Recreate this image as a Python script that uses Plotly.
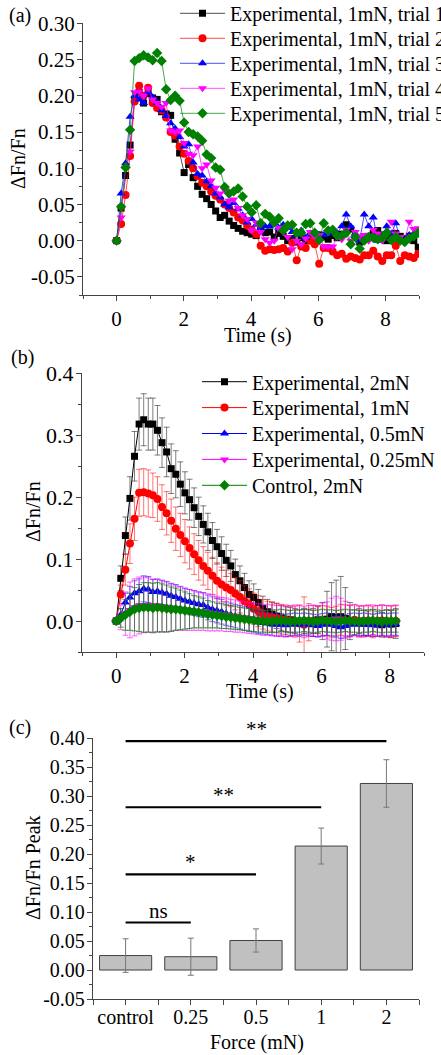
import plotly.graph_objects as go

FONT = "Liberation Serif, Times New Roman, serif"
AX = "#444444"

# sampling instants (s)
time_s = [0, 0.134, 0.268, 0.402, 0.536, 0.67, 0.804, 0.938, 1.072, 1.206,
          1.34, 1.474, 1.608, 1.742, 1.876, 2.01, 2.144, 2.278, 2.412, 2.546,
          2.68, 2.814, 2.948, 3.082, 3.216, 3.35, 3.484, 3.618, 3.752, 3.886,
          4.02, 4.154, 4.288, 4.422, 4.556, 4.69, 4.824, 4.958, 5.092, 5.226,
          5.36, 5.494, 5.628, 5.762, 5.896, 6.03, 6.164, 6.298, 6.432, 6.566,
          6.7, 6.834, 6.968, 7.102, 7.236, 7.37, 7.504, 7.638, 7.772, 7.906,
          8.04, 8.174, 8.308, 8.442, 8.576, 8.71, 8.844, 8.978]

# ---- panel (a): five trials at 1 mN ----
trial1 = [0, 0.045, 0.09, 0.132, 0.195, 0.205, 0.19, 0.203, 0.197, 0.195,
          0.178, 0.175, 0.173, 0.14, 0.121, 0.094, 0.105, 0.087, 0.075, 0.064,
          0.058, 0.05, 0.041, 0.032, 0.035, 0.027, 0.021, 0.017, 0.013, 0.011,
          0.009, 0.007, 0.014, 0.011, 0.012, 0.005, 0.01, 0.006, 0.0, 0.003,
          -0.002, 0.004, 0.0, 0.006, 0.003, 0.008, 0.005, 0.002, 0.007, 0.004,
          0.009, 0.022, 0.016, 0.004, -0.002, 0.003, 0.006, 0.01, 0.014, 0.008,
          0.0, 0.004, 0.01, 0.006, 0.003, 0.006, 0.0, -0.009]
trial2 = [0, 0.023, 0.063, 0.117, 0.192, 0.214, 0.2, 0.211, 0.19, 0.183,
          0.18, 0.17, 0.15, 0.145, 0.13, 0.12, 0.11, 0.1, 0.089, 0.08,
          0.075, 0.068, 0.062, 0.057, 0.05, 0.045, 0.039, 0.032, 0.028, 0.021,
          0.015, 0.009, -0.007, -0.014, -0.012, -0.013, -0.012, -0.01, -0.015, -0.003,
          -0.027, -0.008, -0.01, 0.0, -0.005, -0.032, -0.01, -0.01, -0.015, -0.02,
          -0.018, -0.025, -0.022, -0.024, -0.026, -0.02, -0.02, -0.014, -0.022, -0.028,
          -0.02, -0.02, -0.007, -0.028, -0.02, -0.022, -0.024, -0.018]
trial3 = [0, 0.065, 0.107, 0.171, 0.2, 0.195, 0.19, 0.205, 0.198, 0.19,
          0.18, 0.172, 0.162, 0.155, 0.143, 0.13, 0.133, 0.108, 0.092, 0.09,
          0.082, 0.075, 0.065, 0.06, 0.05, 0.046, 0.052, 0.044, 0.035, 0.025,
          0.03, 0.022, 0.018, 0.02, 0.02, 0.024, 0.018, 0.022, 0.018, 0.012,
          0.008, 0.014, 0.004, 0.01, 0.012, 0.008, 0.008, 0.01, 0.01, 0.01,
          0.02, 0.036, 0.02, 0.01, 0.0, 0.036, 0.02, 0.032, 0.0, 0.004,
          0.02, 0.01, 0.024, 0.002, 0.0, 0.008, 0.01, 0.01]
trial4 = [0, 0.032, 0.1, 0.123, 0.205, 0.206, 0.2, 0.21, 0.195, 0.19,
          0.185, 0.19, 0.152, 0.15, 0.152, 0.135, 0.12, 0.118, 0.13, 0.1,
          0.105, 0.083, 0.073, 0.065, 0.07, 0.055, 0.057, 0.045, 0.035, 0.03,
          0.014, 0.025, 0.012, 0.002, -0.003, 0.0, 0.018, 0.012, 0.005, -0.012,
          0.0, -0.005, 0.003, 0.012, 0.005, 0.008, -0.008, -0.008, -0.008, 0.005,
          0.002, 0.015, 0.0, 0.012, 0.006, 0.008, 0.0, 0.015, 0.01, 0.0,
          0.01, 0.026, 0.01, 0.005, 0.0, 0.026, 0.016, 0.017]
trial5 = [0, 0.047, 0.101, 0.153, 0.248, 0.252, 0.256, 0.253, 0.249, 0.259,
          0.248, 0.209, 0.194, 0.2, 0.193, 0.163, 0.15, 0.147, 0.144, 0.138,
          0.119, 0.114, 0.101, 0.098, 0.074, 0.065, 0.068, 0.072, 0.061, 0.047,
          0.039, 0.049, 0.024, 0.037, 0.033, 0.025, 0.031, 0.014, 0.021, 0.022,
          0.011, 0.011, 0.023, 0.024, 0.011, 0.001, 0.024, 0.014, 0.015, 0.007,
          0.007, 0.011, -0.005, 0.005, -0.011, 0.0, 0.005, 0.004, 0.002, 0.004,
          0.011, 0.001, 0.005, 0.0, -0.002, 0.003, 0.006, 0.011]

# ---- panel (b): mean responses with error bars ----
n_b = 62
mean_2mN = [0, 0.069, 0.138, 0.198, 0.266, 0.318, 0.325, 0.318, 0.318, 0.308,
            0.288, 0.273, 0.246, 0.237, 0.221, 0.207, 0.196, 0.183, 0.169, 0.156,
            0.144, 0.13, 0.12, 0.109, 0.098, 0.089, 0.075, 0.065, 0.054, 0.043,
            0.038, 0.03, 0.02, 0.015, 0.011, 0.008, 0.005, 0.003, 0.002, 0.0,
            -0.002, 0.0, -0.001, 0.0, 0.002, 0.0, 0.003, 0.007, 0.006, 0.007,
            0.004, 0.0, -0.002, 0.0, -0.003, -0.004, -0.002, -0.005, -0.006, -0.004,
            -0.005, -0.004]
err_2mN = [0.005, 0.02, 0.03, 0.035, 0.04, 0.042, 0.042, 0.042, 0.042, 0.04,
           0.04, 0.04, 0.04, 0.038, 0.036, 0.034, 0.033, 0.032, 0.031, 0.03,
           0.03, 0.029, 0.028, 0.027, 0.026, 0.025, 0.025, 0.024, 0.023, 0.022,
           0.022, 0.021, 0.02, 0.02, 0.02, 0.02, 0.02, 0.02, 0.02, 0.02,
           0.02, 0.02, 0.02, 0.02, 0.022, 0.03, 0.045, 0.055, 0.06, 0.065,
           0.05, 0.03, 0.02, 0.02, 0.02, 0.02, 0.02, 0.02, 0.02, 0.022,
           0.022, 0.024]
mean_1mN = [0, 0.043, 0.083, 0.125, 0.165, 0.207, 0.208, 0.206, 0.203, 0.197,
            0.184, 0.174, 0.162, 0.149, 0.139, 0.129, 0.118, 0.108, 0.098, 0.089,
            0.081, 0.073, 0.065, 0.059, 0.054, 0.05, 0.044, 0.039, 0.032, 0.027,
            0.02, 0.016, 0.011, 0.008, 0.006, 0.005, 0.003, 0.002, 0.0, -0.001,
            -0.004, -0.006, -0.002, 0.0, -0.001, 0.001, 0.0, -0.002, 0.0, 0.002,
            0.001, 0.0, 0.002, -0.001, 0.0, 0.001, -0.002, 0.0, 0.001, 0.0,
            -0.001, 0.0]
err_1mN = [0.005, 0.015, 0.025, 0.032, 0.035, 0.038, 0.038, 0.038, 0.036, 0.036,
           0.036, 0.035, 0.035, 0.035, 0.035, 0.035, 0.034, 0.033, 0.032, 0.031,
           0.03, 0.03, 0.029, 0.028, 0.028, 0.027, 0.026, 0.026, 0.025, 0.025,
           0.025, 0.025, 0.024, 0.024, 0.024, 0.024, 0.024, 0.024, 0.024, 0.025,
           0.03, 0.045, 0.03, 0.025, 0.024, 0.024, 0.024, 0.024, 0.024, 0.025,
           0.025, 0.025, 0.025, 0.025, 0.025, 0.025, 0.025, 0.025, 0.025, 0.025,
           0.025, 0.025]
mean_05mN = [0, 0.01, 0.03, 0.038, 0.045, 0.048, 0.052, 0.051, 0.047, 0.048,
             0.046, 0.044, 0.041, 0.039, 0.036, 0.033, 0.031, 0.029, 0.027, 0.026,
             0.022, 0.019, 0.017, 0.015, 0.012, 0.01, 0.008, 0.006, 0.004, 0.002,
             0.0, -0.002, -0.003, -0.004, -0.005, -0.006, -0.006, -0.007, -0.006, -0.005,
             -0.006, -0.005, -0.006, -0.007, -0.008, -0.006, -0.005, -0.006, -0.008, -0.01,
             -0.008, -0.006, -0.005, -0.006, -0.005, -0.006, -0.007, -0.006, -0.005, -0.006,
             -0.005, -0.005]
err_05mN = [0.004, 0.01, 0.015, 0.018, 0.02, 0.02, 0.021, 0.021, 0.02, 0.02,
            0.02, 0.02, 0.02, 0.02, 0.02, 0.02, 0.02, 0.02, 0.02, 0.02,
            0.02, 0.02, 0.02, 0.02, 0.019, 0.019, 0.019, 0.019, 0.019, 0.019,
            0.018, 0.018, 0.018, 0.018, 0.018, 0.018, 0.018, 0.018, 0.018, 0.018,
            0.018, 0.018, 0.018, 0.018, 0.018, 0.018, 0.018, 0.018, 0.018, 0.018,
            0.018, 0.018, 0.018, 0.018, 0.018, 0.018, 0.018, 0.018, 0.018, 0.018,
            0.018, 0.018]
mean_025mN = [0, 0.006, 0.012, 0.018, 0.022, 0.025, 0.026, 0.026, 0.025, 0.025,
              0.024, 0.023, 0.022, 0.021, 0.02, 0.019, 0.018, 0.017, 0.016, 0.015,
              0.014, 0.013, 0.012, 0.011, 0.01, 0.009, 0.008, 0.007, 0.006, 0.005,
              0.004, 0.003, 0.002, 0.002, 0.001, 0.0, 0.0, -0.001, 0.0, 0.001,
              0.0, -0.002, 0.0, 0.001, 0.0, 0.002, 0.001, 0.003, 0.004, 0.003,
              0.002, 0.0, 0.001, 0.0, -0.001, 0.0, 0.001, 0.0, 0.001, 0.0,
              0.0, 0.001]
err_025mN = [0.005, 0.02, 0.035, 0.045, 0.046, 0.046, 0.045, 0.044, 0.043, 0.042,
             0.041, 0.04, 0.038, 0.036, 0.035, 0.034, 0.033, 0.032, 0.031, 0.03,
             0.03, 0.029, 0.028, 0.027, 0.027, 0.026, 0.026, 0.025, 0.025, 0.025,
             0.025, 0.025, 0.025, 0.025, 0.025, 0.025, 0.025, 0.025, 0.025, 0.025,
             0.025, 0.025, 0.025, 0.025, 0.025, 0.027, 0.03, 0.034, 0.036, 0.034,
             0.03, 0.026, 0.025, 0.025, 0.025, 0.025, 0.025, 0.025, 0.025, 0.025,
             0.025, 0.025]
mean_ctrl = [0, 0.005, 0.01, 0.015, 0.019, 0.021, 0.022, 0.022, 0.021, 0.022,
             0.021, 0.02, 0.019, 0.019, 0.018, 0.017, 0.016, 0.015, 0.014, 0.013,
             0.011, 0.01, 0.009, 0.008, 0.007, 0.006, 0.005, 0.004, 0.003, 0.002,
             0.001, 0.0, 0.0, -0.001, 0.0, 0.0, 0.001, 0.0, -0.001, 0.0,
             0.0, 0.001, 0.0, -0.001, 0.0, 0.001, 0.0, 0.0, -0.001, 0.0,
             0.001, 0.0, 0.0, -0.001, 0.0, 0.0, 0.001, 0.0, -0.001, 0.0,
             0.0, 0.0]
err_ctrl = [0.005, 0.015, 0.025, 0.03, 0.035, 0.038, 0.04, 0.04, 0.04, 0.04,
            0.039, 0.038, 0.036, 0.034, 0.032, 0.03, 0.028, 0.026, 0.025, 0.024,
            0.022, 0.021, 0.02, 0.02, 0.019, 0.019, 0.019, 0.018, 0.018, 0.018,
            0.018, 0.018, 0.018, 0.018, 0.018, 0.018, 0.018, 0.018, 0.018, 0.018,
            0.018, 0.018, 0.018, 0.018, 0.018, 0.018, 0.018, 0.018, 0.018, 0.018,
            0.018, 0.018, 0.018, 0.018, 0.018, 0.018, 0.018, 0.018, 0.018, 0.018,
            0.018, 0.018]

# ---- panel (c): peak response vs force ----
force_labels = ["control", "0.25", "0.5", "1", "2"]
peak_mean = [0.025, 0.023, 0.051, 0.214, 0.322]
peak_err = [0.029, 0.032, 0.020, 0.031, 0.041]
sig_from = [0, 0, 0, 0]
sig_to = [1, 2, 3, 4]
sig_y = [0.082, 0.165, 0.281, 0.395]
sig_text = ["ns", "*", "**", "**"]

ya_ticks = [-0.05, 0.0, 0.05, 0.10, 0.15, 0.20, 0.25, 0.30]
ya_text = ["-0.05", "0.00", "0.05", "0.10", "0.15", "0.20", "0.25", "0.30"]
yb_ticks = [0.0, 0.1, 0.2, 0.3, 0.4]
yb_text = ["0.0", "0.1", "0.2", "0.3", "0.4"]
yc_ticks = [-0.05, 0.0, 0.05, 0.10, 0.15, 0.20, 0.25, 0.30, 0.35, 0.40]
yc_text = ["-0.05", "0.00", "0.05", "0.10", "0.15", "0.20", "0.25", "0.30", "0.35", "0.40"]

W, H = 441, 1055


def px_x(p):
    return p / W


def px_y(p):
    return 1 - p / H


fig = go.Figure()
legend_layout = {}


def add_legend(lid, x_px, center_px):
    # one single-entry legend per trace so the row spacing can follow the original
    legend_layout[lid] = dict(x=px_x(x_px), y=px_y(center_px - 19.5), xanchor="left",
                              yanchor="top", bgcolor="rgba(0,0,0,0)",
                              font=dict(family=FONT, size=20), itemwidth=45)


trials = [
    ("Experimental, 1mN, trial 1", trial1, "black", "square", 7),
    ("Experimental, 1mN, trial 2", trial2, "red", "circle", 8),
    ("Experimental, 1mN, trial 3", trial3, "blue", "triangle-up", 8),
    ("Experimental, 1mN, trial 4", trial4, "magenta", "triangle-down", 8),
    ("Experimental, 1mN, trial 5", trial5, "green", "diamond", 8),
]
for k, (name, vals, col, sym, sz) in enumerate(trials):
    lid = "legend" if k == 0 else "legend%d" % (k + 1)
    add_legend(lid, 175, 13.3 + 25 * k)
    fig.add_trace(go.Scatter(
        x=time_s[:len(vals)], y=vals, name=name, mode="lines+markers",
        line=dict(color=col, width=0.7), marker=dict(color=col, symbol=sym, size=sz),
        xaxis="x", yaxis="y", legend=lid))

means = [
    ("Experimental, 2mN", mean_2mN, err_2mN, "black", "rgba(0,0,0,0.5)", "square", 7),
    ("Experimental, 1mN", mean_1mN, err_1mN, "red", "rgba(255,0,0,0.55)", "circle", 8),
    ("Experimental, 0.5mN", mean_05mN, err_05mN, "blue", "rgba(0,0,255,0.55)", "triangle-up", 8),
    ("Experimental, 0.25mN", mean_025mN, err_025mN, "magenta", "rgba(255,0,255,0.6)", "triangle-down", 8),
    ("Control, 2mN", mean_ctrl, err_ctrl, "green", "rgba(0,128,0,0.7)", "diamond", 8),
]
for k, (name, vals, err, col, ecol, sym, sz) in enumerate(means):
    lid = "legend%d" % (k + 6)
    add_legend(lid, 197, 381.7 + 25.9 * k)
    fig.add_trace(go.Scatter(
        x=time_s[:n_b], y=vals, name=name, mode="lines+markers",
        line=dict(color=col, width=1), marker=dict(color=col, symbol=sym, size=sz),
        error_y=dict(type="data", array=err, color=ecol, thickness=1, width=3),
        xaxis="x2", yaxis="y2", legend=lid))

fig.add_trace(go.Bar(
    x=list(range(len(force_labels))), y=peak_mean, width=0.8,
    marker=dict(color="#c0c0c0", line=dict(color="#404040", width=1)),
    error_y=dict(type="data", array=peak_err, color="#777777", thickness=1, width=3),
    showlegend=False, xaxis="x3", yaxis="y3"))

for a, b, yv in zip(sig_from, sig_to, sig_y):
    fig.add_shape(type="line", xref="x3", yref="y3", x0=a, x1=b, y0=yv, y1=yv,
                  line=dict(color="black", width=2.2))
for a, b, yv, txt in zip(sig_from, sig_to, sig_y, sig_text):
    fig.add_annotation(xref="x3", yref="y3", x=(a + b) / 2, y=yv, text=txt,
                       showarrow=False, yanchor="bottom", yshift=-2,
                       font=dict(family=FONT, size=21, color="black"))


def tfont(size):
    return dict(family=FONT, size=size, color="black")


def xax(domain, rng, anchor, **kw):
    d = dict(domain=domain, range=rng, anchor=anchor, showline=True, linecolor=AX,
             linewidth=1.3, ticks="outside", ticklen=5, tickwidth=1.2, tickcolor=AX,
             showgrid=False, zeroline=False, tickfont=tfont(21))
    d.update(kw)
    return d


def yax(domain, rng, anchor, tv, tt, minor_dt, size):
    return dict(domain=domain, range=rng, anchor=anchor, showline=True, linecolor=AX,
                linewidth=1.3, ticks="outside", ticklen=5, tickwidth=1.2, tickcolor=AX,
                showgrid=False, zeroline=False, tickfont=tfont(size),
                tickmode="array", tickvals=tv, ticktext=tt, ticklabelstandoff=-2,
                minor=dict(tickmode="linear", tick0=0, dtick=minor_dt, ticks="outside",
                           ticklen=3, tickcolor=AX, showgrid=False))


lin_minor = dict(tickmode="linear", tick0=0, dtick=1, ticks="outside", ticklen=3,
                 tickcolor=AX, showgrid=False)

fig.update_layout(
    width=W, height=H, plot_bgcolor="white", paper_bgcolor="white",
    margin=dict(l=0, r=0, t=0, b=0, autoexpand=False),
    font=dict(family=FONT, size=20, color="black"),
    barmode="overlay",
    xaxis=xax([px_x(83), px_x(419)], [-1, 9], "y", tick0=0, dtick=2, minor=lin_minor),
    yaxis=yax([px_y(295), px_y(23)], [-0.075, 0.3005], "x", ya_ticks, ya_text, 0.025, 21),
    xaxis2=xax([px_x(82), px_x(424)], [-1, 9], "y2", tick0=0, dtick=2, minor=lin_minor),
    yaxis2=yax([px_y(652), px_y(373)], [-0.05, 0.4005], "x2", yb_ticks, yb_text, 0.05, 22),
    xaxis3=xax([px_x(93), px_x(419)], [-0.5, 4.5], "y3", tickmode="array",
               tickvals=list(range(len(force_labels))), ticktext=force_labels,
               tickfont=tfont(20), ticklabelstandoff=-5,
               minor=dict(tickmode="linear", tick0=0.5, dtick=1, ticks="outside",
                          ticklen=5, tickcolor=AX, showgrid=False)),
    yaxis3=yax([px_y(999), px_y(738)], [-0.05, 0.4005], "x3", yc_ticks, yc_text, 0.025, 20),
)
fig.update_layout(legend_layout)

# panel labels and axis titles
labels = [
    ("(a)", 20, 15, 0), ("(b)", 22, 357, 0), ("(c)", 20, 727, 0),
    ("\u0394Fn/Fn", 18, 159, -90), ("\u0394Fn/Fn", 33, 512, -90),
    ("\u0394Fn/Fn Peak", 33, 868, -90),
    ("Time (s)", 258, 335, 0), ("Time (s)", 260, 691, 0), ("Force (mN)", 257, 1042, 0),
]
for txt, xp, yp, ang in labels:
    fig.add_annotation(xref="paper", yref="paper", x=px_x(xp), y=px_y(yp), text=txt,
                       showarrow=False, textangle=ang, xanchor="center", yanchor="middle",
                       font=dict(family=FONT, size=20, color="black"))

# the page body has a default 8px margin; drop it so the figure fills the window
fig.write_html("out.html", config={"displayModeBar": False},
               post_script="document.body.style.margin='0px';")
